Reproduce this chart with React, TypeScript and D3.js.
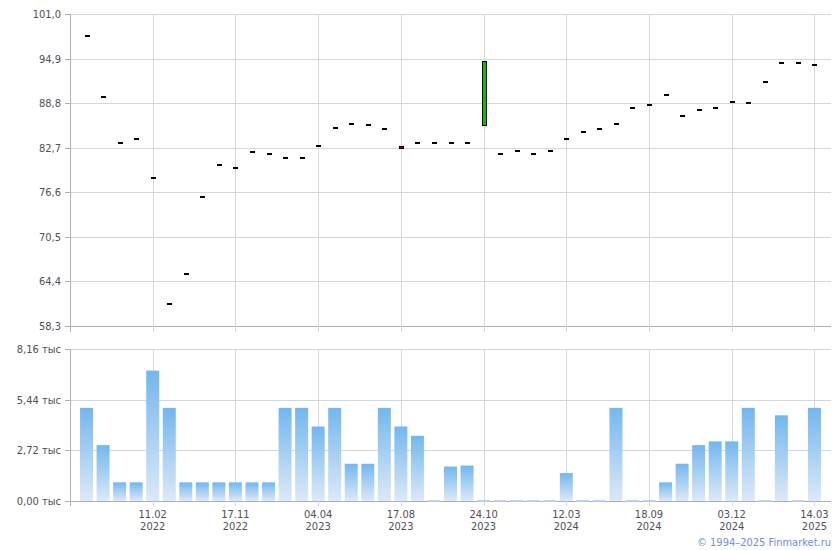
import * as d3 from "d3";

// candles: open / close (dashes are open == close)
const opens = [
  98.0, 89.7, 83.4, 83.9, 78.6, 61.3, 65.4, 75.9, 80.4, 79.9,
  82.1, 81.9, 81.3, 81.3, 82.9, 85.4, 86.0, 85.8, 85.2, 83.0,
  83.4, 83.4, 83.4, 83.4, 85.8, 81.9, 82.3, 81.8, 82.2, 83.9,
  84.8, 85.2, 86.0, 88.2, 88.6, 89.9, 87.1, 87.8, 88.2, 88.9,
  88.8, 91.7, 94.3, 94.3, 94.0,
];
const closes = [
  98.0, 89.7, 83.4, 83.9, 78.6, 61.3, 65.4, 75.9, 80.4, 79.9,
  82.1, 81.9, 81.3, 81.3, 82.9, 85.4, 86.0, 85.8, 85.2, 82.8,
  83.4, 83.4, 83.4, 83.4, 94.5, 81.9, 82.3, 81.8, 82.2, 83.9,
  84.8, 85.2, 86.0, 88.2, 88.6, 89.9, 87.1, 87.8, 88.2, 88.9,
  88.8, 91.7, 94.3, 94.3, 94.0,
];
// volume, thousands
const volumes = [
  5.0, 3.0, 1.0, 1.0, 7.0, 5.0, 1.0, 1.0, 1.0, 1.0,
  1.0, 1.0, 5.0, 5.0, 4.0, 5.0, 2.0, 2.0, 5.0, 4.0,
  3.5, 0.03, 1.85, 1.9, 0.03, 0.03, 0.03, 0.03, 0.03, 1.5,
  0.03, 0.03, 5.0, 0.03, 0.03, 1.0, 2.0, 3.0, 3.2, 3.2,
  5.0, 0.03, 4.6, 0.03, 5.0,
];
const tickDays = ["11.02", "17.11", "04.04", "17.08", "24.10", "12.03", "18.09", "03.12", "14.03"];
const tickYears = ["2022", "2022", "2023", "2023", "2023", "2024", "2024", "2024", "2025"];
const priceTicks = [58.3, 64.4, 70.5, 76.6, 82.7, 88.8, 94.9, 101.0];
const volumeTicks = [0, 2.72, 5.44, 8.16];

const W = 840;
const H = 550;
const LEFT = 70;
const RIGHT = 831;
const fontFamily = "'DejaVu Sans Condensed', 'DejaVu Sans', sans-serif";

const App = () => {
  const idx = d3.range(opens.length);
  const x = d3.scalePoint<number>().domain(idx).range([LEFT, RIGHT]).padding(1);
  const yP = d3.scaleLinear().domain([58.3, 101.0]).range([326, 14]);
  const yV = d3.scaleLinear().domain([0, 8.16]).range([501, 349]);
  const tickIdx = tickDays.map((_, i) => i * 5 + 4);
  const comma = (v: number, n: number) => v.toFixed(n).replace(".", ",");

  const gridColor = "#d3d8dd";
  const axisColor = "#a9b0b7";
  const labelColor = "#505058";

  return (
    <svg
      width={W}
      height={H}
      style={{ position: "absolute", left: 0, top: 0, background: "#fff" }}
      fontFamily={fontFamily}
    >
      <defs>
        <linearGradient id="volGrad" x1="0" y1="0" x2="0" y2="1">
          <stop offset="0%" stopColor="#72b7ef" />
          <stop offset="100%" stopColor="#dde9f7" />
        </linearGradient>
      </defs>

      {/* price panel grid */}
      {priceTicks.map((t) => (
        <g key={"pt" + t}>
          <line x1={LEFT} x2={RIGHT} y1={Math.round(yP(t)) + 0.5} y2={Math.round(yP(t)) + 0.5}
            stroke={t === 58.3 ? axisColor : gridColor} />
          <line x1={LEFT - 5} x2={LEFT} y1={Math.round(yP(t)) + 0.5} y2={Math.round(yP(t)) + 0.5} stroke={axisColor} />
          <text x={61} y={yP(t) + 4} textAnchor="end" fontSize={11} fill={labelColor}>
            {comma(t, 1)}
          </text>
        </g>
      ))}
      {tickIdx.map((i) => (
        <line key={"pv" + i} x1={Math.round(x(i)!) + 0.5} x2={Math.round(x(i)!) + 0.5} y1={14} y2={332} stroke={gridColor} />
      ))}
      <line x1={LEFT + 0.5} x2={LEFT + 0.5} y1={14} y2={332} stroke={axisColor} />

      {/* candles */}
      {idx.map((i) => {
        const o = opens[i];
        const c = closes[i];
        const cx = Math.round(x(i)!);
        if (o === c) {
          return <rect key={"c" + i} x={cx - 2} y={Math.round(yP(o)) - 1} width={5} height={2} fill="#000" />;
        }
        const top = yP(Math.max(o, c));
        const bot = yP(Math.min(o, c));
        return (
          <rect key={"c" + i} x={cx - 2 + 0.5} y={Math.round(top) + 0.5} width={4} height={Math.max(2, Math.round(bot - top))}
            fill={c > o ? "#00c400" : "#c00000"} stroke="#000" strokeWidth={1} />
        );
      })}

      {/* volume panel grid */}
      {volumeTicks.map((t) => (
        <g key={"vt" + t}>
          <line x1={LEFT} x2={RIGHT} y1={Math.round(yV(t)) + 0.5} y2={Math.round(yV(t)) + 0.5}
            stroke={t === 0 ? axisColor : gridColor} />
          <line x1={LEFT - 5} x2={LEFT} y1={Math.round(yV(t)) + 0.5} y2={Math.round(yV(t)) + 0.5} stroke={axisColor} />
          <text x={61} y={yV(t) + 4} textAnchor="end" fontSize={11} fill={labelColor}>
            {comma(t, 2) + " тыс"}
          </text>
        </g>
      ))}
      {tickIdx.map((i) => (
        <line key={"vv" + i} x1={Math.round(x(i)!) + 0.5} x2={Math.round(x(i)!) + 0.5} y1={349} y2={506} stroke={gridColor} />
      ))}
      <line x1={LEFT + 0.5} x2={LEFT + 0.5} y1={349} y2={506} stroke={axisColor} />

      {/* volume bars */}
      {idx.map((i) => {
        const top = yV(volumes[i]);
        return (
          <rect key={"v" + i} x={x(i)! - 6.5} y={top} width={13} height={Math.max(1, 501 - top)} fill="url(#volGrad)" />
        );
      })}

      {/* x labels */}
      {tickIdx.map((i, k) => (
        <text key={"xl" + i} x={x(i)!} textAnchor="middle" fontSize={11} fill={labelColor}>
          <tspan x={x(i)!} y={518}>{tickDays[k]}</tspan>
          <tspan x={x(i)!} y={530}>{tickYears[k]}</tspan>
        </text>
      ))}

      <text x={RIGHT} y={546} textAnchor="end" fontSize={11} fill="#6f8fe0">
        © 1994–2025 Finmarket.ru
      </text>
    </svg>
  );
};

export default App;
